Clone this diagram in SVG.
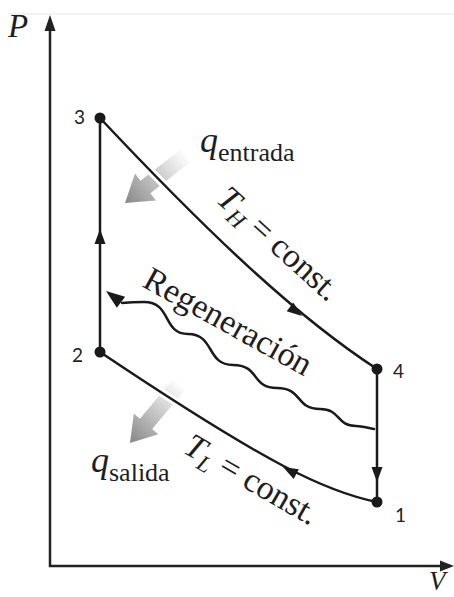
<svg xmlns="http://www.w3.org/2000/svg" width="454" height="597" viewBox="0 0 454 597">
<style>
.ln{fill:none;stroke:#1a1a1a;stroke-width:2.5;stroke-linecap:round}
.halo{fill:none;stroke:#fff;stroke-width:8}
.ax{fill:none;stroke:#222;stroke-width:2.5}
.dot{fill:#1a1a1a}
.ah{fill:#1a1a1a}
.num{font-family:Lato,"Open Sans","Liberation Sans",sans-serif;font-size:19px;fill:#222}
.ser{font-family:"Liberation Serif","Times New Roman",serif;fill:#1e1e1e}
.it{font-style:italic}
</style>
<defs>
<path id="ah" d="M0,0 L-15,-5.5 L-15,5.5 Z"/>
<linearGradient id="gg" gradientUnits="userSpaceOnUse" x1="-78" y1="0" x2="0" y2="0">
<stop offset="0" stop-color="#ffffff"/>
<stop offset="0.45" stop-color="#cbcbcb"/>
<stop offset="1" stop-color="#878787"/>
</linearGradient>
</defs>
<line x1="8" y1="14" x2="454" y2="14" stroke="#eeeeee" stroke-width="1.5"/>
<g id="axes">
<path class="ax" d="M50,30 V566 H441"/>
<path d="M50,15 L44.5,31 L55.5,31 Z" fill="#222"/>
<path d="M454,566 L440,560.5 L440,571.5 Z" fill="#222"/>
<text class="ser it" x="8" y="37" font-size="33">P</text>
<text class="ser it" x="429" y="590" font-size="27">V</text>
</g>
<g id="heat-arrows">
<g id="q-in-arrow" transform="translate(125,203) rotate(142)">
<path d="M0,0 L-26,-17 L-26,-8 L-80,-8 L-80,8 L-26,8 L-26,17 Z" fill="url(#gg)"/>
</g>
<g id="q-out-arrow" transform="translate(130,443) rotate(130)">
<path d="M0,0 L-25,-16 L-25,-8 L-77,-8 L-77,8 L-25,8 L-25,16 Z" fill="url(#gg)"/>
</g>
</g>
<g id="connectors">
<path class="halo" d="M100,118 C210,235 297,317 377,369"/>
<path class="halo" d="M100,352 C270,466 327,492 377,502"/>
<path id="c34" class="ln" d="M100,118 C210,235 297,317 377,369"/>
<path id="c12" class="ln" d="M100,352 C270,466 327,492 377,502"/>
<path id="c23" class="ln" d="M100,352 V118"/>
<path id="c41" class="ln" d="M377,369 V502"/>
<path id="regen" class="ln" stroke-width="2.2" d="M122,303 C132,302 139,302 144,302 C172,302 162,334 188,334 C215,334 206,365 233,365 C260,365 251,388 277,388 C303,388 295,409 320,409 C341,409 336,426 356,426 C362,426 368,428 374,429"/>
<use href="#ah" class="ah" transform="translate(100,229) rotate(-90)"/>
<use href="#ah" class="ah" transform="translate(302,316) rotate(37)"/>
<use href="#ah" class="ah" transform="translate(377,482) rotate(90)"/>
<use href="#ah" class="ah" transform="translate(283,467) rotate(208)"/>
<use href="#ah" class="ah" transform="translate(106,291) rotate(217) scale(1.25)"/>
</g>
<g id="n3"><circle class="dot" cx="100" cy="118" r="5.5"/><text class="num" x="74" y="124">3</text></g>
<g id="n2"><circle class="dot" cx="100" cy="352" r="5.5"/><text class="num" x="72" y="362">2</text></g>
<g id="n4"><circle class="dot" cx="377" cy="369" r="5.5"/><text class="num" x="393" y="378">4</text></g>
<g id="n1"><circle class="dot" cx="377" cy="502" r="5.5"/><text class="num" x="395" y="522">1</text></g>
<g id="labels">
<text class="ser" x="200" y="152"><tspan class="it" font-size="36">q</tspan><tspan font-size="26" dy="9">entrada</tspan></text>
<text class="ser" x="91" y="472"><tspan class="it" font-size="36">q</tspan><tspan font-size="26" dy="9">salida</tspan></text>
<text class="ser" font-size="34" transform="translate(215,201) rotate(42)"><tspan class="it">T</tspan><tspan class="it" font-size="23" dy="7">H</tspan><tspan dy="-7"> = const.</tspan></text>
<text class="ser" font-size="34" transform="translate(182,452) rotate(30)"><tspan class="it">T</tspan><tspan class="it" font-size="23" dy="7">L</tspan><tspan dy="-7"> = const.</tspan></text>
<text class="ser" font-size="34" transform="translate(141,286) rotate(29)">Regeneración</text>
</g>
</svg>
